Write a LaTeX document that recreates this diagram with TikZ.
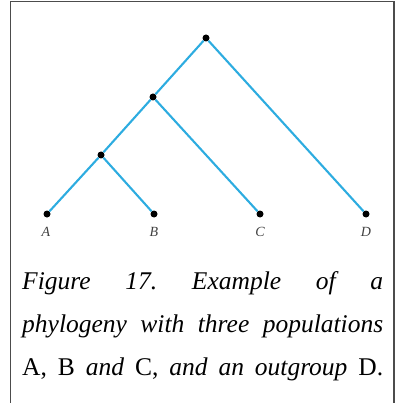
\documentclass[tikz,border=0pt]{standalone}
\usepackage{fontspec}
\setmainfont{Liberation Serif}
\usepackage{xcolor}
\usepackage{tikz}
\definecolor{treeblue}{RGB}{45,172,224}
\tikzset{
  br/.style={line width=2.1pt,treeblue},
  knot/.style={circle,fill=black,inner sep=0pt,minimum size=7pt},
  lf/.style={font=\fontsize{14}{14}\selectfont\itshape,text=black!75},
  frm/.style={line width=1.6pt,black!70},
  capl/.style={anchor=base west,inner sep=0pt,font=\fontsize{25.5}{25.5}\selectfont}
}
\newcommand{\capline}[1]{\makebox[361pt][s]{\frenchspacing #1}}

\begin{document}
\begin{tikzpicture}[x=1pt,y=-1pt]
\useasboundingbox (0,0) rectangle (396,403);
\draw[frm] (10.5,403) -- (10.5,1.5) -- (394,1.5) -- (394,403);
% tree
\node[knot] (r) at (206,38) {};
\node[knot] (n1) at (153,97) {};
\node[knot] (n2) at (101,155) {};
\node[knot] (a) at (47,214) {};
\node[knot] (b) at (154,214) {};
\node[knot] (c) at (260,214) {};
\node[knot] (d) at (366,214) {};
\draw[br] (r) -- (n1); \draw[br] (r) -- (d);
\draw[br] (n1) -- (n2); \draw[br] (n1) -- (c);
\draw[br] (n2) -- (a); \draw[br] (n2) -- (b);
\node[lf] (la) at (46,232) {A};
\node[lf] (lb) at (154,232) {B};
\node[lf] (lc) at (260,232) {C};
\node[lf] (ld) at (366,232) {D};
% caption
\node[capl] (cap1) at (22,289) {\capline{\itshape Figure 17. Example of a}};
\node[capl] (cap2) at (22,332) {\capline{\itshape phylogeny with three populations}};
\node[capl] (cap3) at (22,375) {\capline{A, B \textit{and} C, \textit{and an outgroup} D.}};
\end{tikzpicture}
\end{document}
